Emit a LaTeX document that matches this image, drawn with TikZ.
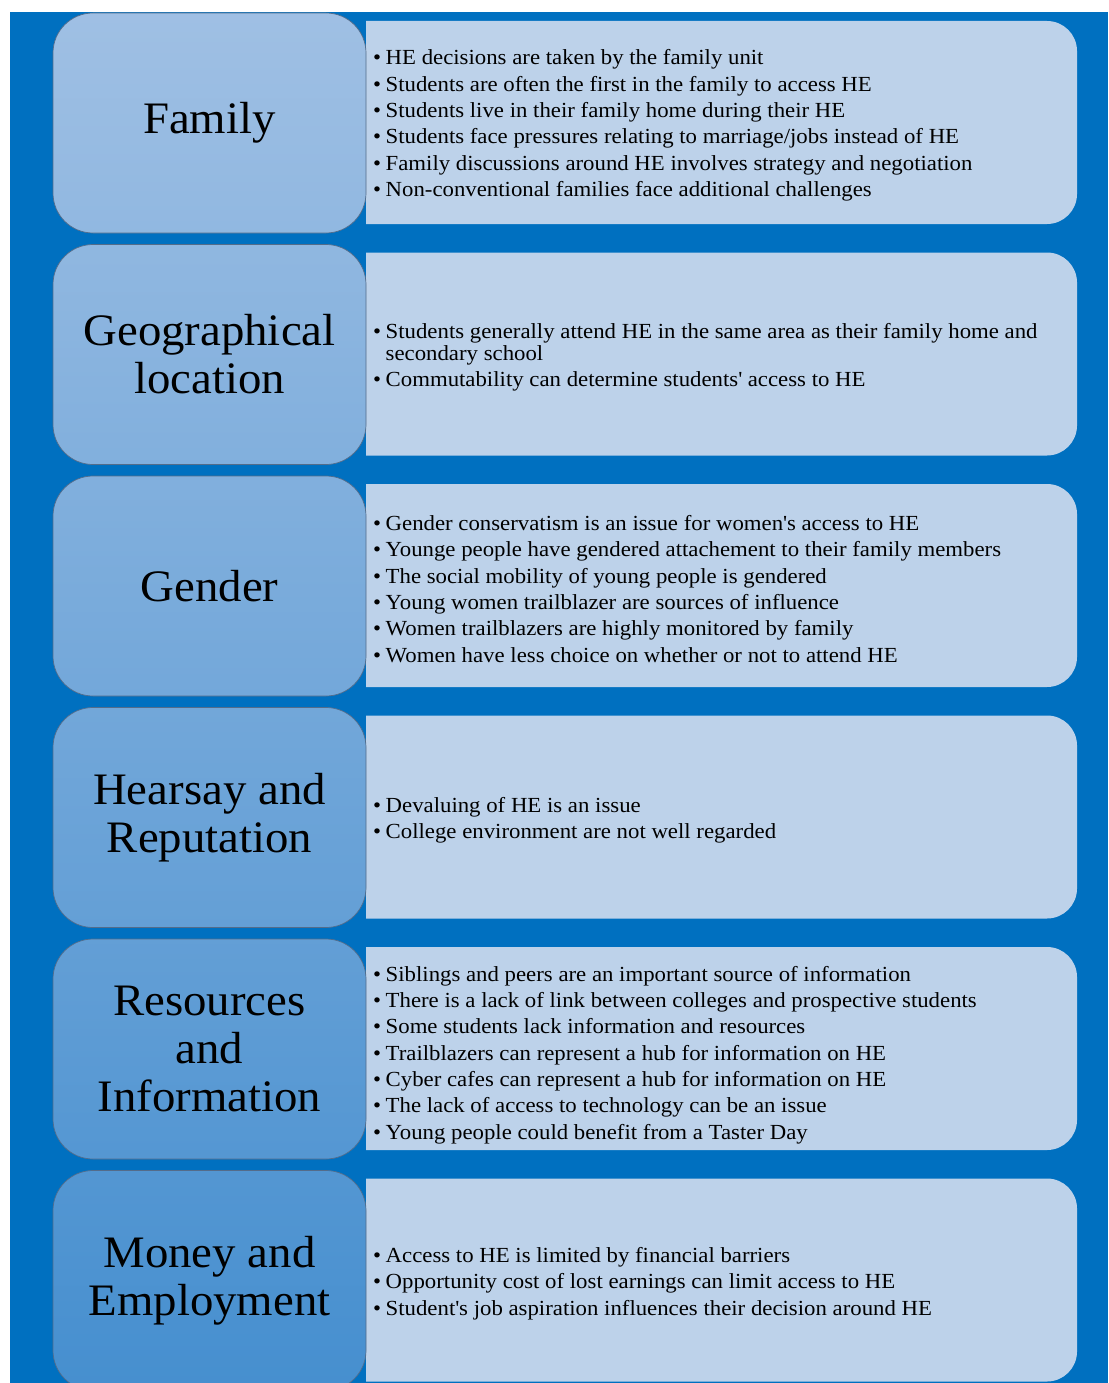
\documentclass[tikz,border=0pt]{standalone}
\usepackage{fontspec}
\setmainfont{Liberation Serif}
\newfontfamily\bodyfont[FakeStretch=1.06]{Liberation Serif}
\newfontfamily\headfont[FakeStretch=1.04]{Liberation Serif}
\definecolor{pageblue}{RGB}{0,112,192}
\definecolor{catlight}{RGB}{160,192,228}
\definecolor{catdark}{RGB}{70,143,207}
\definecolor{catline}{RGB}{84,108,138}
\definecolor{infofill}{RGB}{189,210,234}
\newcommand\itm{\makebox[12.5pt][l]{\textbullet}}
\newcommand\gap{\hspace*{12.5pt}}
\begin{document}
\begin{tikzpicture}[x=1pt,y=-1pt,
  catbox/.style={draw=catline, line width=0.7pt, rounded corners=40pt,
    minimum width=313pt, minimum height=220pt, inner sep=0pt,
    align=center, font=\headfont\fontsize{45}{48}\selectfont},
  infobox/.style={fill=infofill, rounded corners=30pt},
  bullets/.style={anchor=west, align=left, inner sep=0pt,
    font=\bodyfont\fontsize{21.5}{26.3}\selectfont}]
\useasboundingbox (0,0) rectangle (1108,1383);
\clip (0,0) rectangle (1108,1383);
\fill[pageblue] (10,12) rectangle (1108,1383);

% information panels: square on the left, rounded on the right
\foreach \t/\b in {21/224, 252.5/455.5, 484/687, 715.5/918.5, 947/1150, 1178.5/1381.5}{
  \begin{scope}
    \clip (366,\t-1) rectangle (1100,\b+1);
    \fill[infobox] (320,\t) rectangle (1077,\b);
  \end{scope}
}

% category boxes
\node[catbox, top color=catdark!1!catlight, bottom color=catdark!17!catlight]
  (family) at (209.5,123) {Family};
\node[catbox, top color=catdark!18!catlight, bottom color=catdark!34!catlight]
  (geo) at (209.5,354.5) {Geographical\\location};
\node[catbox, top color=catdark!34!catlight, bottom color=catdark!50!catlight]
  (gender) at (209.5,586) {Gender};
\node[catbox, top color=catdark!51!catlight, bottom color=catdark!67!catlight]
  (hearsay) at (209.5,817.5) {Hearsay and\\Reputation};
\node[catbox, top color=catdark!68!catlight, bottom color=catdark!84!catlight]
  (resources) at (209.5,1049) {Resources\\and\\Information};
\node[catbox, top color=catdark!85!catlight, bottom color=catdark!100!catlight]
  (money) at (209.5,1280.5) {Money and\\Employment};

% bullet lists
\node[bullets] (familytext) at (373,125.5) {%
\itm HE decisions are taken by the family unit\\
\itm Students are often the first in the family to access HE\\
\itm Students live in their family home during their HE\\
\itm Students face pressures relating to marriage/jobs instead of HE\\
\itm Family discussions around HE involves strategy and negotiation\\
\itm Non-conventional families face additional challenges};

\node[bullets] (geotext) at (373,357) {%
\itm Students generally attend HE in the same area as their family home and\\[-4.5pt]
\gap secondary school\\
\itm Commutability can determine students\textquotesingle\ access to HE};

\node[bullets] (gendertext) at (373,589) {%
\itm Gender conservatism is an issue for women\textquotesingle s access to HE\\
\itm Younge people have gendered attachement to their family members\\
\itm The social mobility of young people is gendered\\
\itm Young women trailblazer are sources of influence\\
\itm Women trailblazers are highly monitored by family\\
\itm Women have less choice on whether or not to attend HE};

\node[bullets] (hearsaytext) at (373,820.5) {%
\itm Devaluing of HE is an issue\\
\itm College environment are not well regarded};

\node[bullets] (resourcestext) at (373,1055) {%
\itm Siblings and peers are an important source of information\\
\itm There is a lack of link between colleges and prospective students\\
\itm Some students lack information and resources\\
\itm Trailblazers can represent a hub for information on HE\\
\itm Cyber cafes can represent a hub for information on HE\\
\itm The lack of access to technology can be an issue\\
\itm Young people could benefit from a Taster Day};

\node[bullets] (moneytext) at (373,1283.5) {%
\itm Access to HE is limited by financial barriers\\
\itm Opportunity cost of lost earnings can limit access to HE\\
\itm Student\textquotesingle s job aspiration influences their decision around HE};
\end{tikzpicture}
\end{document}
